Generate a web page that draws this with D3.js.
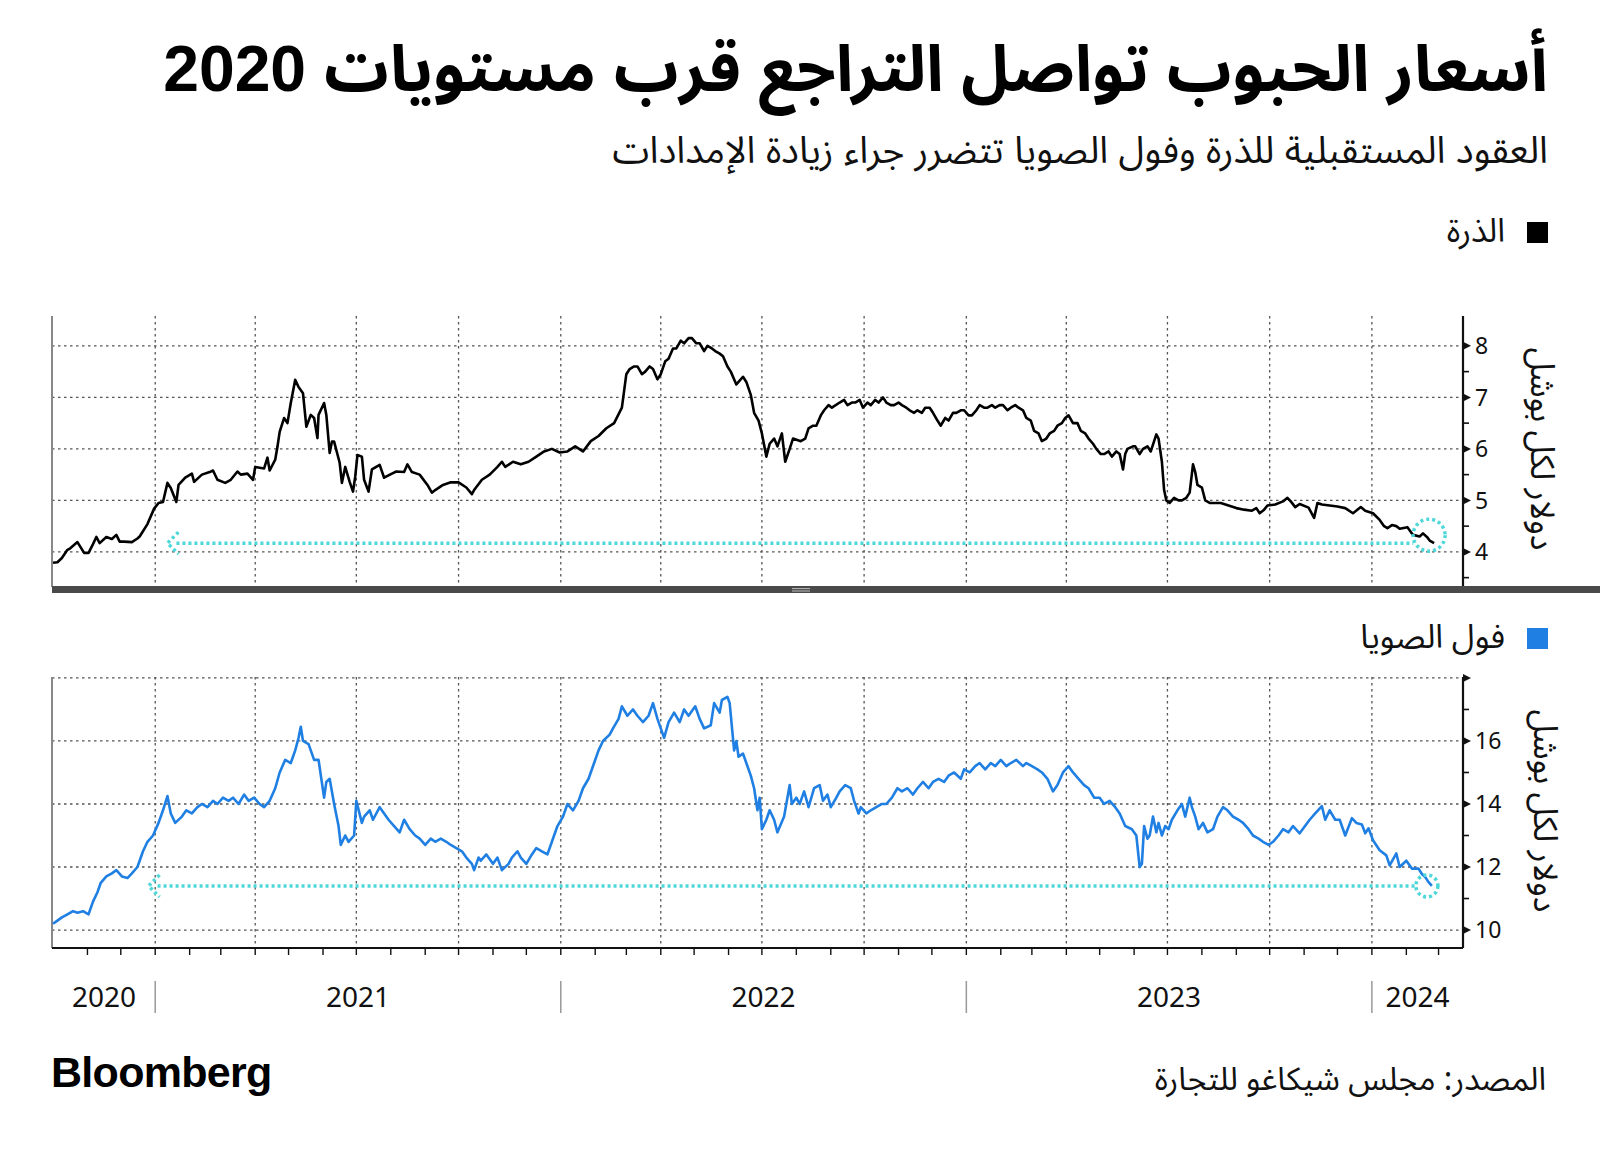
<!DOCTYPE html>
<html><head><meta charset="utf-8">
<script src="https://cdn.jsdelivr.net/npm/d3@7"></script>
<style>
body{margin:0;background:#fff;}
svg{display:block;}
.ar{font-family:"Noto Sans Arabic","Noto Kufi Arabic","DejaVu Sans",sans-serif;}
.arh{font-family:"Liberation Sans","Noto Sans Arabic","DejaVu Sans",sans-serif;}
.num{font-family:"Noto Sans","Open Sans",sans-serif;}
</style></head><body>
<svg id="c" width="1600" height="1153"></svg>
<script>
const titleText = "أسعار الحبوب تواصل التراجع قرب مستويات 2020";
const subtitleText = "العقود المستقبلية للذرة وفول الصويا تتضرر جراء زيادة الإمدادات";
const cornLabel = "الذرة";
const soyLabel = "فول الصويا";
const unitLabel = "دولار لكل بوشل";
const sourceText = "المصدر: مجلس شيكاغو للتجارة";
const logoText = "Bloomberg";
const yearLabels = ["2020","2021","2022","2023","2024"];
const cornTicks = [4,5,6,7,8];
const cornMinor = [3.5,4.5,5.5,6.5,7.5];
const soyTicks = [10,12,14,16,18];
const soyTickLabels = ["10","12","14","16",""];
const soyMinor = [11,13,15,17];

const corn = [
["2020-10-01",3.79],["2020-10-05",3.80],["2020-10-09",3.88],["2020-10-14",4.04],["2020-10-16",4.06],["2020-10-23",4.19],["2020-10-29",3.98],["2020-11-02",3.98],["2020-11-06",4.15],["2020-11-09",4.29],["2020-11-12",4.17],["2020-11-18",4.29],["2020-11-23",4.25],["2020-11-27",4.33],["2020-11-30",4.20],["2020-12-04",4.20],["2020-12-11",4.19],["2020-12-16",4.26],["2020-12-18",4.30],["2020-12-25",4.54],["2020-12-31",4.84],
["2021-01-04",4.95],["2021-01-08",4.97],["2021-01-12",5.34],["2021-01-15",5.24],["2021-01-20",4.97],["2021-01-22",5.30],["2021-01-28",5.44],["2021-02-03",5.52],["2021-02-05",5.36],["2021-02-12",5.50],["2021-02-19",5.55],["2021-02-22",5.58],["2021-02-26",5.40],["2021-03-05",5.34],["2021-03-10",5.40],["2021-03-16",5.56],["2021-03-19",5.50],["2021-03-25",5.52],["2021-03-30",5.40],["2021-04-01",5.65],["2021-04-09",5.62],["2021-04-12",5.83],["2021-04-14",5.58],["2021-04-19",5.79],["2021-04-21",6.04],["2021-04-23",6.33],["2021-04-27",6.60],["2021-04-30",6.50],["2021-05-03",6.89],["2021-05-07",7.34],["2021-05-10",7.20],["2021-05-14",7.08],["2021-05-17",6.43],["2021-05-21",6.66],["2021-05-24",6.60],["2021-05-27",6.21],["2021-05-28",6.66],["2021-06-02",6.89],["2021-06-04",6.66],["2021-06-07",5.92],["2021-06-09",6.14],["2021-06-11",6.14],["2021-06-16",5.73],["2021-06-18",5.34],["2021-06-21",5.65],["2021-06-25",5.36],["2021-06-28",5.17],["2021-06-30",5.46],["2021-07-02",5.88],["2021-07-06",5.85],["2021-07-08",5.40],["2021-07-12",5.17],["2021-07-15",5.60],["2021-07-22",5.69],["2021-07-26",5.44],["2021-08-02",5.52],["2021-08-06",5.56],["2021-08-13",5.55],["2021-08-16",5.70],["2021-08-20",5.55],["2021-08-27",5.50],["2021-09-03",5.30],["2021-09-07",5.15],["2021-09-10",5.20],["2021-09-17",5.30],["2021-09-24",5.35],["2021-10-01",5.35],["2021-10-08",5.25],["2021-10-13",5.12],["2021-10-15",5.20],["2021-10-22",5.40],["2021-10-29",5.50],["2021-11-05",5.65],["2021-11-09",5.75],["2021-11-12",5.65],["2021-11-19",5.75],["2021-11-26",5.70],["2021-12-03",5.75],["2021-12-10",5.85],["2021-12-17",5.95],["2021-12-24",6.00],["2021-12-31",5.93],
["2022-01-07",5.95],["2022-01-14",6.05],["2022-01-21",5.95],["2022-01-28",6.15],["2022-02-04",6.25],["2022-02-11",6.40],["2022-02-18",6.50],["2022-02-25",6.80],["2022-03-01",7.45],["2022-03-04",7.55],["2022-03-08",7.60],["2022-03-11",7.60],["2022-03-15",7.45],["2022-03-18",7.50],["2022-03-22",7.60],["2022-03-25",7.55],["2022-03-29",7.35],["2022-04-01",7.45],["2022-04-05",7.70],["2022-04-08",7.75],["2022-04-12",7.95],["2022-04-15",7.95],["2022-04-19",8.10],["2022-04-22",8.05],["2022-04-26",8.15],["2022-04-29",8.15],["2022-05-03",8.05],["2022-05-06",8.05],["2022-05-10",7.90],["2022-05-13",8.00],["2022-05-17",7.95],["2022-05-20",7.90],["2022-05-24",7.85],["2022-05-27",7.80],["2022-05-31",7.60],["2022-06-03",7.50],["2022-06-08",7.25],["2022-06-10",7.30],["2022-06-14",7.40],["2022-06-17",7.30],["2022-06-21",7.05],["2022-06-24",6.70],["2022-06-28",6.55],["2022-07-01",6.30],["2022-07-05",5.85],["2022-07-08",6.10],["2022-07-12",6.20],["2022-07-15",6.05],["2022-07-19",6.30],["2022-07-22",5.75],["2022-07-26",6.00],["2022-07-29",6.20],["2022-08-05",6.15],["2022-08-09",6.20],["2022-08-12",6.40],["2022-08-16",6.45],["2022-08-19",6.45],["2022-08-23",6.65],["2022-08-26",6.75],["2022-08-30",6.85],["2022-09-02",6.80],["2022-09-09",6.90],["2022-09-13",6.95],["2022-09-16",6.85],["2022-09-20",6.90],["2022-09-23",6.90],["2022-09-27",6.95],["2022-09-30",6.80],["2022-10-04",6.90],["2022-10-07",6.85],["2022-10-11",6.95],["2022-10-14",6.90],["2022-10-18",7.00],["2022-10-21",6.90],["2022-10-25",6.85],["2022-10-28",6.85],["2022-11-01",6.90],["2022-11-04",6.85],["2022-11-08",6.80],["2022-11-11",6.75],["2022-11-15",6.70],["2022-11-18",6.75],["2022-11-22",6.70],["2022-11-25",6.80],["2022-11-29",6.80],["2022-12-02",6.70],["2022-12-06",6.55],["2022-12-09",6.45],["2022-12-13",6.60],["2022-12-16",6.55],["2022-12-20",6.70],["2022-12-23",6.70],["2022-12-27",6.75],["2022-12-30",6.75],
["2023-01-03",6.65],["2023-01-06",6.65],["2023-01-10",6.75],["2023-01-13",6.85],["2023-01-17",6.80],["2023-01-20",6.80],["2023-01-24",6.85],["2023-01-27",6.80],["2023-01-31",6.85],["2023-02-03",6.85],["2023-02-07",6.75],["2023-02-10",6.80],["2023-02-14",6.85],["2023-02-17",6.80],["2023-02-21",6.75],["2023-02-24",6.60],["2023-02-28",6.55],["2023-03-03",6.35],["2023-03-07",6.30],["2023-03-10",6.15],["2023-03-14",6.20],["2023-03-17",6.30],["2023-03-21",6.35],["2023-03-24",6.45],["2023-03-28",6.50],["2023-03-31",6.60],["2023-04-03",6.65],["2023-04-07",6.50],["2023-04-11",6.50],["2023-04-14",6.35],["2023-04-18",6.30],["2023-04-21",6.20],["2023-04-25",6.10],["2023-04-28",6.00],["2023-05-02",5.90],["2023-05-05",5.90],["2023-05-09",5.95],["2023-05-12",5.85],["2023-05-16",5.95],["2023-05-19",5.90],["2023-05-22",5.60],["2023-05-24",5.90],["2023-05-26",6.00],["2023-05-31",6.05],["2023-06-02",6.05],["2023-06-06",5.90],["2023-06-09",6.00],["2023-06-13",6.05],["2023-06-16",5.95],["2023-06-21",6.28],["2023-06-23",6.20],["2023-06-26",5.75],["2023-06-28",5.20],["2023-06-30",5.00],["2023-07-03",4.95],["2023-07-07",5.05],["2023-07-11",5.00],["2023-07-14",5.00],["2023-07-18",5.05],["2023-07-21",5.15],["2023-07-24",5.70],["2023-07-26",5.55],["2023-07-28",5.30],["2023-08-01",5.25],["2023-08-04",5.00],["2023-08-08",4.95],["2023-08-11",4.95],["2023-08-18",4.95],["2023-08-25",4.90],["2023-09-01",4.85],["2023-09-08",4.82],["2023-09-15",4.80],["2023-09-19",4.85],["2023-09-22",4.75],["2023-09-26",4.82],["2023-09-29",4.90],["2023-10-06",4.92],["2023-10-13",4.98],["2023-10-17",5.05],["2023-10-20",4.98],["2023-10-24",4.87],["2023-10-28",4.93],["2023-11-05",4.86],["2023-11-10",4.66],["2023-11-13",4.95],["2023-11-17",4.92],["2023-11-24",4.90],["2023-12-01",4.88],["2023-12-08",4.85],["2023-12-15",4.75],["2023-12-22",4.87],["2023-12-26",4.80],
["2024-01-02",4.75],["2024-01-08",4.62],["2024-01-12",4.50],["2024-01-15",4.46],["2024-01-19",4.52],["2024-01-23",4.50],["2024-01-26",4.45],["2024-02-02",4.48],["2024-02-07",4.33],["2024-02-13",4.30],["2024-02-16",4.36],["2024-02-20",4.28],["2024-02-22",4.22],["2024-02-26",4.17]
];

const soy = [
["2020-10-01",10.20],["2020-10-05",10.30],["2020-10-09",10.40],["2020-10-14",10.50],["2020-10-19",10.60],["2020-10-23",10.55],["2020-10-28",10.60],["2020-11-02",10.50],["2020-11-06",10.90],["2020-11-10",11.20],["2020-11-13",11.50],["2020-11-18",11.70],["2020-11-23",11.80],["2020-11-27",11.90],["2020-12-02",11.70],["2020-12-07",11.65],["2020-12-11",11.80],["2020-12-16",12.00],["2020-12-21",12.50],["2020-12-25",12.80],["2020-12-30",13.00],
["2021-01-04",13.40],["2021-01-08",13.80],["2021-01-12",14.25],["2021-01-15",13.70],["2021-01-19",13.40],["2021-01-25",13.60],["2021-01-29",13.80],["2021-02-03",13.70],["2021-02-08",13.90],["2021-02-12",14.00],["2021-02-17",13.90],["2021-02-22",14.10],["2021-02-26",14.00],["2021-03-03",14.20],["2021-03-08",14.10],["2021-03-12",14.20],["2021-03-17",14.00],["2021-03-22",14.30],["2021-03-26",14.10],["2021-03-31",14.20],["2021-04-05",14.00],["2021-04-09",13.90],["2021-04-14",14.10],["2021-04-19",14.50],["2021-04-23",15.00],["2021-04-28",15.40],["2021-05-03",15.30],["2021-05-07",15.70],["2021-05-10",16.10],["2021-05-12",16.45],["2021-05-14",16.00],["2021-05-19",15.90],["2021-05-24",15.40],["2021-05-28",15.40],["2021-06-02",14.20],["2021-06-04",14.70],["2021-06-07",14.80],["2021-06-11",14.00],["2021-06-15",13.30],["2021-06-17",12.70],["2021-06-21",13.00],["2021-06-24",12.80],["2021-06-29",13.00],["2021-07-01",14.10],["2021-07-06",13.40],["2021-07-08",13.60],["2021-07-13",13.80],["2021-07-16",13.50],["2021-07-22",13.90],["2021-07-26",13.70],["2021-07-30",13.50],["2021-08-04",13.30],["2021-08-09",13.10],["2021-08-13",13.50],["2021-08-18",13.20],["2021-08-23",13.00],["2021-08-27",12.90],["2021-09-01",12.70],["2021-09-06",12.90],["2021-09-10",12.80],["2021-09-15",12.90],["2021-09-20",12.80],["2021-09-24",12.70],["2021-09-29",12.60],["2021-10-04",12.50],["2021-10-08",12.30],["2021-10-13",12.10],["2021-10-15",11.90],["2021-10-19",12.30],["2021-10-21",12.20],["2021-10-26",12.40],["2021-11-01",12.10],["2021-11-05",12.30],["2021-11-09",11.90],["2021-11-15",12.10],["2021-11-18",12.30],["2021-11-23",12.50],["2021-11-26",12.30],["2021-12-01",12.10],["2021-12-06",12.40],["2021-12-10",12.60],["2021-12-15",12.50],["2021-12-20",12.40],["2021-12-24",12.80],["2021-12-29",13.30],
["2022-01-03",13.60],["2022-01-07",14.00],["2022-01-12",13.80],["2022-01-17",14.10],["2022-01-21",14.50],["2022-01-26",14.80],["2022-01-31",15.30],["2022-02-04",15.70],["2022-02-08",16.00],["2022-02-14",16.20],["2022-02-17",16.40],["2022-02-22",16.70],["2022-02-25",17.10],["2022-03-02",16.80],["2022-03-07",17.00],["2022-03-11",16.80],["2022-03-16",16.60],["2022-03-21",16.80],["2022-03-25",17.20],["2022-03-29",16.70],["2022-04-04",16.10],["2022-04-08",16.60],["2022-04-13",16.90],["2022-04-18",16.60],["2022-04-22",17.00],["2022-04-26",16.80],["2022-05-02",17.10],["2022-05-06",16.70],["2022-05-10",16.40],["2022-05-16",16.50],["2022-05-19",17.20],["2022-05-24",16.90],["2022-05-26",17.30],["2022-05-31",17.40],["2022-06-02",17.20],["2022-06-06",15.70],["2022-06-08",16.00],["2022-06-10",15.50],["2022-06-14",15.60],["2022-06-17",15.30],["2022-06-21",14.90],["2022-06-24",14.50],["2022-06-27",13.80],["2022-06-29",14.20],["2022-07-01",13.20],["2022-07-05",13.50],["2022-07-08",13.80],["2022-07-12",13.50],["2022-07-15",13.10],["2022-07-21",13.60],["2022-07-26",14.60],["2022-07-28",14.00],["2022-08-01",14.20],["2022-08-04",14.00],["2022-08-08",14.40],["2022-08-12",13.90],["2022-08-17",14.50],["2022-08-22",14.60],["2022-08-25",14.10],["2022-08-29",14.30],["2022-09-01",13.90],["2022-09-06",14.20],["2022-09-09",14.40],["2022-09-14",14.60],["2022-09-19",14.50],["2022-09-22",14.10],["2022-09-26",13.70],["2022-09-28",13.90],["2022-10-03",13.70],["2022-10-07",13.80],["2022-10-12",13.90],["2022-10-17",14.00],["2022-10-21",14.00],["2022-10-26",14.20],["2022-10-31",14.50],["2022-11-04",14.40],["2022-11-09",14.50],["2022-11-14",14.30],["2022-11-18",14.50],["2022-11-23",14.70],["2022-11-28",14.50],["2022-12-02",14.70],["2022-12-07",14.80],["2022-12-12",14.70],["2022-12-16",14.90],["2022-12-21",15.00],["2022-12-27",14.80],["2022-12-30",15.10],
["2023-01-04",15.00],["2023-01-09",15.20],["2023-01-13",15.30],["2023-01-18",15.10],["2023-01-23",15.30],["2023-01-27",15.20],["2023-02-01",15.40],["2023-02-06",15.20],["2023-02-10",15.30],["2023-02-15",15.40],["2023-02-21",15.20],["2023-02-24",15.30],["2023-03-01",15.20],["2023-03-06",15.10],["2023-03-10",15.00],["2023-03-15",14.80],["2023-03-20",14.40],["2023-03-24",14.60],["2023-03-29",15.00],["2023-04-03",15.20],["2023-04-07",15.00],["2023-04-12",14.80],["2023-04-17",14.60],["2023-04-21",14.50],["2023-04-26",14.20],["2023-05-01",14.20],["2023-05-05",14.00],["2023-05-10",14.10],["2023-05-15",13.90],["2023-05-19",13.70],["2023-05-24",13.30],["2023-05-30",13.20],["2023-06-03",13.00],["2023-06-06",12.00],["2023-06-08",12.10],["2023-06-10",13.30],["2023-06-13",12.90],["2023-06-15",13.00],["2023-06-18",13.60],["2023-06-21",13.10],["2023-06-23",13.40],["2023-06-26",13.00],["2023-06-29",13.30],["2023-07-02",13.20],["2023-07-05",13.50],["2023-07-10",13.80],["2023-07-14",14.00],["2023-07-17",13.60],["2023-07-21",14.20],["2023-07-23",13.90],["2023-07-26",13.60],["2023-07-29",13.20],["2023-08-02",13.40],["2023-08-06",13.10],["2023-08-11",13.20],["2023-08-15",13.60],["2023-08-20",13.90],["2023-08-24",13.80],["2023-08-29",13.60],["2023-09-03",13.50],["2023-09-07",13.40],["2023-09-12",13.20],["2023-09-16",13.00],["2023-09-21",12.90],["2023-09-25",12.80],["2023-09-30",12.70],["2023-10-04",12.80],["2023-10-09",13.00],["2023-10-13",13.20],["2023-10-18",13.10],["2023-10-22",13.30],["2023-10-28",13.07],["2023-11-06",13.50],["2023-11-11",13.70],["2023-11-17",13.93],["2023-11-20",13.50],["2023-11-24",13.80],["2023-11-29",13.50],["2023-12-03",13.50],["2023-12-08",13.00],["2023-12-14",13.55],["2023-12-18",13.40],["2023-12-23",13.35],["2023-12-26",13.07],["2023-12-29",13.23],
["2024-01-02",12.85],["2024-01-08",12.53],["2024-01-14",12.37],["2024-01-17",12.05],["2024-01-23",12.43],["2024-01-26",12.00],["2024-02-01",12.20],["2024-02-06",11.95],["2024-02-12",11.95],["2024-02-15",11.78],["2024-02-18",11.68],["2024-02-21",11.52],["2024-02-24",11.40]
];

const parse = d3.utcParse("%Y-%m-%d");
const cornData = corn.map(d => ({date: parse(d[0]), value: d[1]})).sort((a,b)=>a.date-b.date);
const soyData = soy.map(d => ({date: parse(d[0]), value: d[1]})).sort((a,b)=>a.date-b.date);

const svg = d3.select("#c");
svg.append("rect").attr("width",1600).attr("height",1153).attr("fill","#fff");

const L = 52, R = 1463;
const x = d3.scaleUtc().domain([parse("2020-10-01"), parse("2024-03-23")]).range([53, R]);
const yC = d3.scaleLinear().domain([3.26, 8.58]).range([590, 316]);
const yS = d3.scaleLinear().domain([9.43, 18.03]).range([948, 677]);

const GRID = "#555";
const quarters = d3.utcMonth.every(3).range(parse("2021-01-01"), parse("2024-03-02"));
const months = d3.utcMonth.range(parse("2020-11-01"), parse("2024-03-23"));
const years = d3.utcYear.range(parse("2021-01-01"), parse("2024-03-23"));

function panel(y, top, bottom, ticks, labels, minor, gridTicks) {
  const g = svg.append("g");
  g.selectAll(null).data(quarters).join("line")
    .attr("x1", d => x(d)).attr("x2", d => x(d))
    .attr("y1", top).attr("y2", bottom)
    .attr("stroke", GRID).attr("stroke-width", 1.3).attr("stroke-dasharray", "2.5,3.5");
  g.selectAll(null).data(gridTicks).join("line")
    .attr("x1", L).attr("x2", R).attr("y1", d => y(d)).attr("y2", d => y(d))
    .attr("stroke", GRID).attr("stroke-width", 1.3).attr("stroke-dasharray", "2.5,3.5");
  g.append("line").attr("x1", L).attr("x2", L).attr("y1", top).attr("y2", bottom)
    .attr("stroke", "#888").attr("stroke-width", 2);
  g.append("line").attr("x1", R).attr("x2", R).attr("y1", top).attr("y2", bottom)
    .attr("stroke", "#111").attr("stroke-width", 2.2);
  g.selectAll(null).data(ticks).join("path")
    .attr("d", d => `M${R},${y(d)-4}L${R+8},${y(d)}L${R},${y(d)+4}Z`)
    .attr("fill", "#111");
  g.selectAll(null).data(minor).join("line")
    .attr("x1", R).attr("x2", R+6).attr("y1", d => y(d)).attr("y2", d => y(d))
    .attr("stroke", "#111").attr("stroke-width", 1.6);
  g.selectAll(null).data(ticks).join("text")
    .attr("class", "num")
    .attr("x", R + 12).attr("y", d => y(d)).attr("dy", "0.36em")
    .attr("font-size", 23).attr("fill", "#111")
    .text((d,i) => labels[i]);
  return g;
}

panel(yC, 316, 587, cornTicks, cornTicks.map(String), cornMinor, cornTicks);
panel(yS, 677, 948, soyTicks, soyTickLabels, soyMinor, soyTicks);

// divider band
svg.append("rect").attr("x", L).attr("y", 586).attr("width", 1600 - L).attr("height", 7).attr("fill", "#4a4a4a");
svg.append("line").attr("x1", 792).attr("x2", 810).attr("y1", 588.6).attr("y2", 588.6).attr("stroke", "#bbb").attr("stroke-width", 1);
svg.append("line").attr("x1", 792).attr("x2", 810).attr("y1", 591).attr("y2", 591).attr("stroke", "#bbb").attr("stroke-width", 1);

// bottom x axis
svg.append("line").attr("x1", L).attr("x2", R).attr("y1", 948).attr("y2", 948).attr("stroke", "#111").attr("stroke-width", 2);
svg.selectAll(null).data(months).join("line")
  .attr("x1", d => x(d)).attr("x2", d => x(d)).attr("y1", 948).attr("y2", 955)
  .attr("stroke", "#111").attr("stroke-width", 1.4);

svg.selectAll(null).data(years).join("line")
  .attr("x1", d => x(d)).attr("x2", d => x(d)).attr("y1", 981).attr("y2", 1013)
  .attr("stroke", "#999").attr("stroke-width", 1.5);
const bounds = [x.domain()[0], ...years, x.domain()[1]];
svg.selectAll(null).data(yearLabels).join("text")
  .attr("class", "num")
  .attr("x", (d,i) => (x(bounds[i]) + x(bounds[i+1]))/2)
  .attr("y", 1007).attr("text-anchor", "middle")
  .attr("font-size", 28).attr("fill", "#111")
  .text(d => d);

// lines
const line = y => d3.line().x(d => x(d.date)).y(d => y(d.value)).curve(d3.curveLinear);
svg.append("path").datum(cornData).attr("d", line(yC)).attr("fill", "none")
  .attr("stroke", "#000").attr("stroke-width", 2.6).attr("stroke-linejoin", "round");
svg.append("path").datum(soyData).attr("d", line(yS)).attr("fill", "none")
  .attr("stroke", "#1f7fe3").attr("stroke-width", 2.6).attr("stroke-linejoin", "round");

// annotations
const CYAN = "#4dd7d9";
function annot(data, y, startDate, r, dyC) {
  const last = data[data.length - 1];
  const ly = y(last.value);
  const cx = x(last.date) - 5, cy = ly + dyC;
  const tipX = x(parse(startDate));
  svg.append("line").attr("x1", tipX + 9).attr("x2", cx - r).attr("y1", ly).attr("y2", ly)
    .attr("stroke", CYAN).attr("stroke-width", 3.5).attr("stroke-dasharray", "3,3");
  svg.append("path").attr("d", `M${tipX+11},${ly-11}L${tipX},${ly}L${tipX+11},${ly+11}`)
    .attr("fill", "none").attr("stroke", CYAN).attr("stroke-width", 3.5).attr("stroke-dasharray", "3,3");
  svg.append("circle").attr("cx", cx).attr("cy", cy).attr("r", r)
    .attr("fill", "none").attr("stroke", CYAN).attr("stroke-width", 3.5).attr("stroke-dasharray", "3,3");
}
annot(cornData, yC, "2021-01-12", 16, -8);
annot(soyData, yS, "2020-12-26", 11, 0);

function fit(sel, w, mn, mx){
  const cur = sel.node().getComputedTextLength();
  const fs = parseFloat(sel.attr("font-size"));
  sel.attr("font-size", Math.max(mn, Math.min(mx, fs*w/cur)));
}

// Titles
const t = svg.append("text").attr("class", "arh").attr("direction", "rtl").attr("text-anchor", "start")
  .attr("x", 1548).attr("y", 91).attr("font-size", 62).attr("font-weight", 700).attr("fill", "#000")
  .text(titleText);
fit(t, 1385, 48, 72);

const st = svg.append("text").attr("class", "arh").attr("direction", "rtl").attr("text-anchor", "start")
  .attr("x", 1548).attr("y", 163).attr("font-size", 34).attr("fill", "#111")
  .text(subtitleText);
fit(st, 936, 28, 40);

// Legends
svg.append("rect").attr("x", 1527).attr("y", 222).attr("width", 21).attr("height", 21).attr("fill", "#000");
svg.append("text").attr("class", "ar").attr("direction", "rtl").attr("text-anchor", "start")
  .attr("x", 1505).attr("y", 242).attr("font-size", 33).attr("fill", "#111").text(cornLabel);
svg.append("rect").attr("x", 1527).attr("y", 628).attr("width", 21).attr("height", 21).attr("fill", "#1f7fe3");
svg.append("text").attr("class", "ar").attr("direction", "rtl").attr("text-anchor", "start")
  .attr("x", 1505).attr("y", 648).attr("font-size", 33).attr("fill", "#111").text(soyLabel);

// unit labels (rotated)
[[1543, 449], [1546, 811]].forEach(p => {
  svg.append("text").attr("class", "ar").attr("direction", "rtl")
    .attr("transform", `translate(${p[0]},${p[1]}) rotate(90)`)
    .attr("text-anchor", "middle").attr("dy", "0.35em")
    .attr("font-size", 33).attr("fill", "#111").text(unitLabel);
});

// footer
svg.append("text").attr("x", 51).attr("y", 1087)
  .attr("font-family", "'Liberation Sans', Arial, sans-serif").attr("font-weight", 700)
  .attr("font-size", 43).attr("letter-spacing", -0.7).attr("fill", "#000").text(logoText);
svg.append("text").attr("class", "ar").attr("direction", "rtl").attr("text-anchor", "start")
  .attr("x", 1546).attr("y", 1090).attr("font-size", 32).attr("fill", "#111").text(sourceText);
</script>
</body></html>
